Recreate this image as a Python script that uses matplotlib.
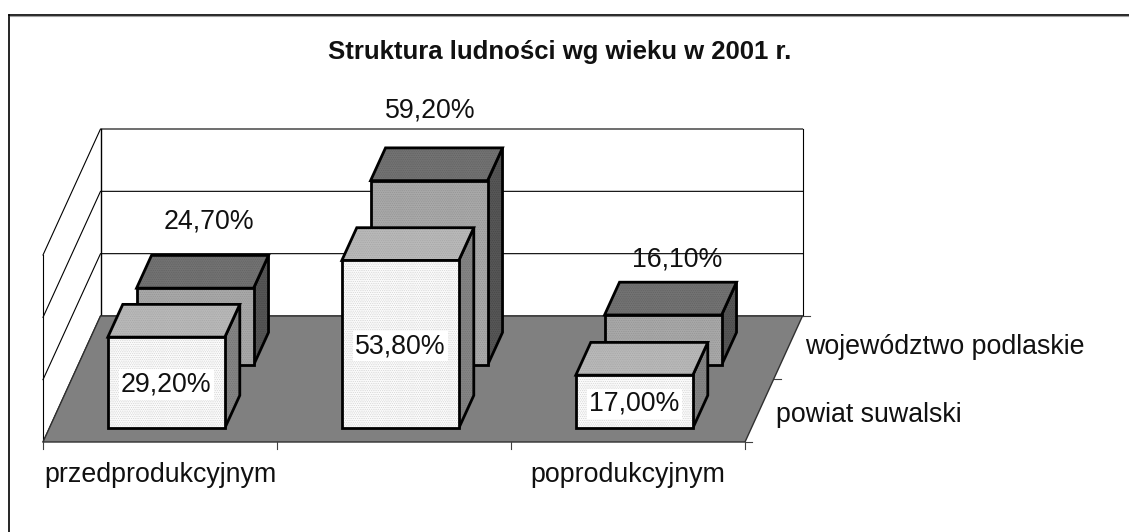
import numpy as np
import matplotlib
matplotlib.use('Agg')
import matplotlib.pyplot as plt
from matplotlib.patches import Polygon

plt.rcParams['font.family'] = ['Liberation Sans', 'DejaVu Sans']
plt.rcParams['hatch.linewidth'] = 0.3

title = 'Struktura ludności wg wieku w 2001 r.'
categories = ['przedprodukcyjnym', 'produkcyjnym', 'poprodukcyjnym']
shown_categories = ['przedprodukcyjnym', '', 'poprodukcyjnym']
series_names = ['powiat suwalski', 'województwo podlaskie']
powiat = [29.2, 53.8, 17.0]
wojewodztwo = [24.7, 59.2, 16.1]
grid_values = [0, 20, 40, 60]

W, H = 1129, 532
fig = plt.figure(figsize=(W / 100, H / 100), dpi=100)
ax = fig.add_axes([0, 0, 1, 1])
ax.set_xlim(0, W)
ax.set_ylim(H, 0)
ax.axis('off')

# oblique projection: x in category units, z in series units, v in percent
X0, Y0 = 43, 442
CAT_W = 234.0
DEPTH_X, DEPTH_Y = 28.75, -63.0
PX_PER_PCT = 187.0 / 60


def proj(x, z, v):
    return (X0 + x * CAT_W + z * DEPTH_X, Y0 + z * DEPTH_Y - v * PX_PER_PCT)


def poly(pts, fc, ec='black', lw=1.0, z=1):
    ax.add_patch(Polygon(pts, closed=True, fc=fc, ec=ec, lw=lw, zorder=z,
                         joinstyle='miter'))


def face(pts, fc, dots, z):
    # stippled fill first, then the black outline on top
    ax.add_patch(Polygon(pts, closed=True, fc=fc, ec=dots, lw=0, zorder=z,
                         hatch='.........'))
    ax.add_patch(Polygon(pts, closed=True, fc='none', ec='black', lw=2.0, zorder=z,
                         joinstyle='miter'))


def box(cat, row, val, front, top, side, z):
    x0 = cat + 0.25
    x1 = cat + 0.75
    z0 = row + 0.22
    z1 = row + 0.74
    face([proj(x1, z0, 0), proj(x1, z1, 0), proj(x1, z1, val), proj(x1, z0, val)],
         side[0], side[1], z)
    face([proj(x0, z0, val), proj(x1, z0, val), proj(x1, z1, val), proj(x0, z1, val)],
         top[0], top[1], z)
    face([proj(x0, z0, 0), proj(x1, z0, 0), proj(x1, z0, val), proj(x0, z0, val)],
         front[0], front[1], z)


n_cat = len(categories)
n_row = len(series_names)
top_val = grid_values[-1]

# outer frame
ax.plot([8.5, 8.5], [H, 14.5], color='black', lw=1.2, zorder=0)
ax.plot([8.5, W], [14.5, 14.5], color='black', lw=1.2, zorder=0)
ax.plot([10, W], [16, 16], color='#a0a0a0', lw=0.8, zorder=0)

# walls and gridlines
for g in grid_values:
    ax.plot(*zip(proj(0, 0, g), proj(0, n_row, g), proj(n_cat, n_row, g)),
            color='black', lw=0.8, zorder=1)
ax.plot(*zip(proj(0, 0, 0), proj(0, 0, top_val)), color='black', lw=0.8, zorder=1)
ax.plot(*zip(proj(0, n_row, 0), proj(0, n_row, top_val)), color='black', lw=1.0, zorder=1)
ax.plot(*zip(proj(n_cat, n_row, 0), proj(n_cat, n_row, top_val)), color='black', lw=0.8, zorder=1)

# floor
poly([proj(0, 0, 0), proj(n_cat, 0, 0), proj(n_cat, n_row, 0), proj(0, n_row, 0)],
     '#808080', ec='#303030', lw=1.0, z=2)

# ticks
for i in range(n_cat + 1):
    ax.plot(*zip(proj(i, 0, 0), (proj(i, 0, 0)[0], proj(i, 0, 0)[1] + 7)),
            color='#404040', lw=0.8, zorder=2)
for r in range(n_row + 1):
    ax.plot(*zip(proj(n_cat, r, 0), (proj(n_cat, r, 0)[0] + 7, proj(n_cat, r, 0)[1])),
            color='#404040', lw=0.8, zorder=2)

# bars, back row first
for i, v in enumerate(wojewodztwo):
    box(i, 1, v, ('#a8a8a8', '#8c8c8c'), ('#727272', '#5c5c5c'), ('#565656', '#404040'), 3 + i * 0.1)
for i, v in enumerate(powiat):
    box(i, 0, v, ('#fafafa', '#c4c4c4'), ('#b8b8b8', '#a0a0a0'), ('#848484', '#6c6c6c'), 4 + i * 0.1)

# value labels
FS = 19.3
for i, v in enumerate(powiat):
    px, py = proj(i + 0.5, 0.22, v / 2)
    ax.text(px, py + 2, f'{v:.2f}%'.replace('.', ','), ha='center', va='center',
            fontsize=FS, color='#111111', zorder=6,
            bbox=dict(fc='white', ec='none', pad=1.5))
label_offset = [(14, -67), (1, -70), (14, -55)]
for i, v in enumerate(wojewodztwo):
    px, py = proj(i + 0.5, 1.22, v)
    ax.text(px + label_offset[i][0], py + label_offset[i][1],
            f'{v:.2f}%'.replace('.', ','), ha='center', va='center',
            fontsize=FS, color='#111111', zorder=6)

# axis labels
for i, c in enumerate(shown_categories):
    px, py = proj(i + 0.5, 0, 0)
    ax.text(px, py + 33, c, ha='center', va='center', fontsize=FS, color='#111111', zorder=6)
name_dy = [5, 0]
for r, name in enumerate(series_names):
    px, py = proj(n_cat, r + 0.5, 0)
    ax.text(px + 17, py + name_dy[r], name, ha='left', va='center', fontsize=FS,
            color='#111111', zorder=6)

ax.text(560, 52, title, ha='center', va='center', fontsize=18.5, fontweight='bold', color='#111111')

fig.savefig('out.png', dpi=100)
